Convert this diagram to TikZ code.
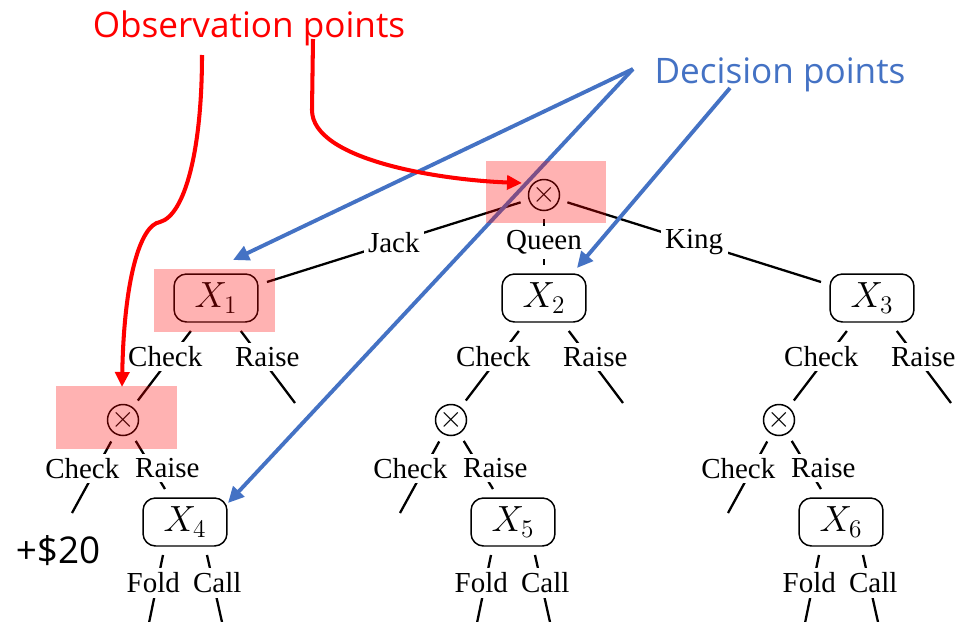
\documentclass[tikz,border=0pt]{standalone}
\usepackage{fontspec}
\setmainfont{Liberation Serif}
\newfontfamily\calloutfont{Open Sans}
\usepackage{tikz}
\usetikzlibrary{positioning,calc,arrows.meta}
\definecolor{obsred}{RGB}{255,0,0}
\definecolor{decblue}{RGB}{68,114,196}

\begin{document}
\begin{tikzpicture}[x=0.02cm, y=-0.02cm, dec/.style = {rectangle, rounded corners=0.25cm, draw, line width=0.85pt, fill=white, minimum width=1.68cm, minimum height=0.96cm, outer sep=0.18cm, font=\fontsize{20}{22}\selectfont}, chance/.style = {circle, draw, line width=0.85pt, minimum size=0.56cm, inner sep=0pt, outer sep=0.18cm, font=\fontsize{16}{18}\selectfont}, br/.style = {line width=1.3pt}, lbl/.style = {fill=white, inner sep=2.5pt, font=\fontsize{16.5}{18}\selectfont}, hl/.style = {fill=obsred, fill opacity=0.3, minimum width=2.42cm, minimum height=1.26cm, inner sep=0pt}, obs/.style = {draw=obsred, line width=2.3pt, -{Triangle[length=0.3cm,width=0.28cm]}}, decarr/.style = {draw=decblue, line width=2.2pt, -{Triangle[length=0.32cm,width=0.3cm]}}, callout/.style = {font=\calloutfont\fontsize{20}{24}\selectfont, inner sep=0pt, anchor=base}]

\useasboundingbox (0,0) rectangle (958,622);
\clip (0,0) rectangle (958,622);

\node[chance] (rt) at (544,195) {$\times$};
\node[dec] (x1) at (216,298) {$X_1$};
\node[dec] (x2) at (544,298) {$X_2$};
\node[dec] (x3) at (872,298) {$X_3$};
\node[chance] (c1) at (123,420) {$\times$};
\node[chance] (c2) at (451,420) {$\times$};
\node[chance] (c3) at (779,420) {$\times$};
\node[dec] (x4) at (185,522) {$X_4$};
\node[dec] (x5) at (513,522) {$X_5$};
\node[dec] (x6) at (841,522) {$X_6$};
\coordinate (x1r) at (295,403);
\coordinate (x2r) at (623,403);
\coordinate (x3r) at (951,403);
\coordinate (c1c) at (72,513);
\coordinate (c2c) at (400,513);
\coordinate (c3c) at (728,513);
\coordinate (x4f) at (145.5,640);
\coordinate (x4c) at (226,640);
\coordinate (x5f) at (473.5,640);
\coordinate (x5c) at (554,640);
\coordinate (x6f) at (801.5,640);
\coordinate (x6c) at (882,640);

\draw[br] (rt) -- node[lbl] (lj) {Jack} (x1);
\draw[br] (rt) -- node[lbl] (lq) {Queen} (x2);
\draw[br] (rt) -- node[lbl] (lk) {King} (x3);

\draw[br] (x1) -- node[lbl, pos=0.37, xshift=-0.12cm] (l1c) {Check} (c1);
\draw[br] (x1) -- node[lbl, pos=0.36, xshift=0.14cm] (l1r) {Raise} (x1r);
\draw[br] (c1) -- node[lbl, pos=0.38, xshift=-0.28cm] (m1c) {Check} (c1c);
\draw[br] (c1) -- node[lbl, pos=0.57, xshift=0.3cm] (m1r) {Raise} (x4);
\draw[br] ([xshift=-0.44cm]x4.south) -- node[lbl, pos=0.33, xshift=-0.08cm] (f4) {Fold} (x4f);
\draw[br] ([xshift=0.44cm]x4.south) -- node[lbl, pos=0.33, xshift=0.08cm] (k4) {Call} (x4c);

\draw[br] (x2) -- node[lbl, pos=0.37, xshift=-0.12cm] (l2c) {Check} (c2);
\draw[br] (x2) -- node[lbl, pos=0.36, xshift=0.14cm] (l2r) {Raise} (x2r);
\draw[br] (c2) -- node[lbl, pos=0.38, xshift=-0.28cm] (m2c) {Check} (c2c);
\draw[br] (c2) -- node[lbl, pos=0.57, xshift=0.3cm] (m2r) {Raise} (x5);
\draw[br] ([xshift=-0.44cm]x5.south) -- node[lbl, pos=0.33, xshift=-0.08cm] (f5) {Fold} (x5f);
\draw[br] ([xshift=0.44cm]x5.south) -- node[lbl, pos=0.33, xshift=0.08cm] (k5) {Call} (x5c);

\draw[br] (x3) -- node[lbl, pos=0.37, xshift=-0.12cm] (l3c) {Check} (c3);
\draw[br] (x3) -- node[lbl, pos=0.36, xshift=0.14cm] (l3r) {Raise} (x3r);
\draw[br] (c3) -- node[lbl, pos=0.38, xshift=-0.28cm] (m3c) {Check} (c3c);
\draw[br] (c3) -- node[lbl, pos=0.57, xshift=0.3cm] (m3r) {Raise} (x6);
\draw[br] ([xshift=-0.44cm]x6.south) -- node[lbl, pos=0.33, xshift=-0.08cm] (f6) {Fold} (x6f);
\draw[br] ([xshift=0.44cm]x6.south) -- node[lbl, pos=0.33, xshift=0.08cm] (k6) {Call} (x6c);

\node[callout, font=\calloutfont\fontsize{21}{24}\selectfont] (pay) at (58,563) {+\$20};
\node[callout, text=obsred] (obs) at (249,37) {Observation points};
\node[callout, text=decblue] (dcs) at (780,83) {Decision points};

\coordinate (dp) at (633,69);
\coordinate (dq) at (730,88);
\coordinate (t1) at (233,260);
\coordinate (t2) at (577,268);
\coordinate (t4) at (228,503);
\draw[decarr] (dp) -- (t1);
\draw[decarr] (dp) -- (t4);
\draw[decarr] (dq) -- (t2);

\node[hl] (hr) at (546,192) {};
\node[hl] (h1) at (214.5,300.5) {};
\node[hl] (hc) at (116.5,417.5) {};

\coordinate (op1) at (202,55);
\coordinate (op2) at (313,39);
\coordinate (oc1) at (122,387);
\coordinate (or) at (522,183);
\draw[obs] (op1) .. controls (202,150) and (185,215) .. (160,222) .. controls (140,225) and (124,280) .. (oc1);
\draw[obs] (op2) -- (312,110) .. controls (312,160) and (440,180) .. (or);
\end{tikzpicture}
\end{document}
